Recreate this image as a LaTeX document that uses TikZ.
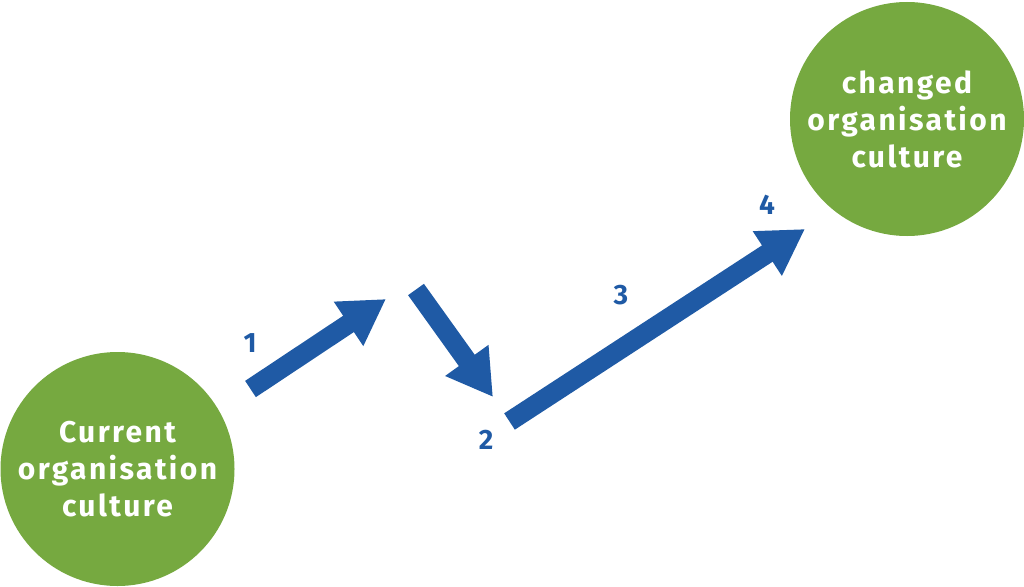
\documentclass[tikz,border=0pt]{standalone}
\usepackage{fontspec}
\setmainfont{Fira Sans}
\newfontfamily\bubblefont[LetterSpace=8]{Fira Sans}
\usetikzlibrary{arrows.meta}
\definecolor{cgreen}{RGB}{118,169,64}
\definecolor{cblue}{RGB}{31,90,165}
\tikzset{
  bubble/.style={circle, fill=cgreen, minimum size=234pt, inner sep=0pt, text=white,
    font=\bubblefont\fontsize{30}{37}\selectfont\bfseries, align=center},
  bigarrow/.style={draw=cblue, line width=19.5pt, line cap=butt,
    -{Triangle[width=50pt,length=45pt]}},
  num/.style={text=cblue, font=\fontsize{28}{34}\selectfont\bfseries, inner sep=0pt}
}
\begin{document}
\begin{tikzpicture}[x=1pt,y=-1pt]
\useasboundingbox (0,0) rectangle (1024,586);
\node[bubble] (cur) at (117.5,469) {Current\\organisation\\culture};
\node[bubble] (chg) at (907,119) {changed\\organisation\\culture};
\coordinate (a1s) at (250.5,389);
\coordinate (a1e) at (386,299);
\coordinate (a2s) at (416,289.5);
\coordinate (a2e) at (493,397);
\coordinate (a3s) at (509.5,421.5);
\coordinate (a3e) at (805,229);
\draw[bigarrow] (a1s) -- (a1e);
\draw[bigarrow] (a2s) -- (a2e);
\draw[bigarrow] (a3s) -- (a3e);
\node[num] (n1) at (250,343) {1};
\node[num] (n2) at (486,440) {2};
\node[num] (n3) at (621,295) {3};
\node[num] (n4) at (767,205) {4};
\end{tikzpicture}
\end{document}
